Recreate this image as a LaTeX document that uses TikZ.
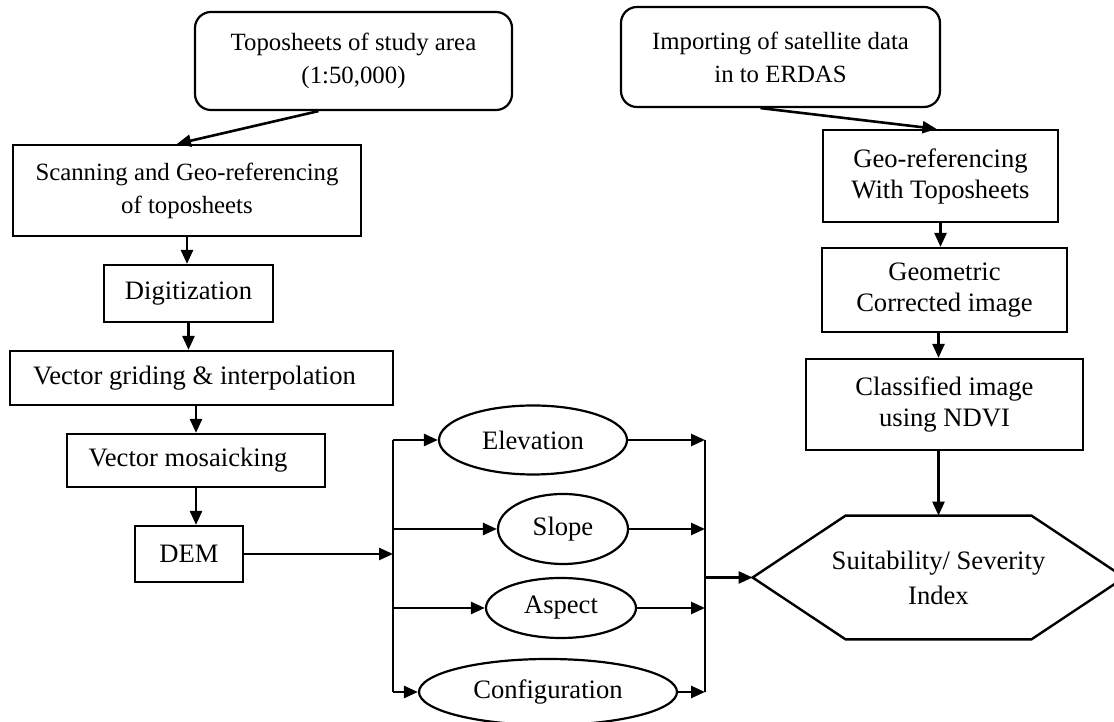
\documentclass[tikz,border=0pt]{standalone}
\usepackage{fontspec}
\setmainfont{Liberation Serif}
\usetikzlibrary{shapes.geometric, arrows.meta, calc}

\begin{document}
\begin{tikzpicture}
  [x=0.5pt, y=0.5pt,
  font=\fontsize{13.3}{15.5}\selectfont,
  ssty/.style={font=\fontsize{12.4}{16.5}\selectfont},
  bsty/.style={rectangle, draw, line width=1.1pt, align=center, inner sep=0pt},
  rsty/.style={bsty, ssty, rounded corners=8pt},
  esty/.style={ellipse, draw, line width=1.1pt, inner sep=0pt},
  asty/.style={-{Triangle[length=7pt, width=6pt]}, line width=1.3pt},
  lsty/.style={line width=1.2pt}]
  \useasboundingbox (0,0) rectangle (1114,722);
  % nodes, left column
  \node[rsty, minimum width=158.5pt, minimum height=49pt] (topo) at (353.5,661) {Toposheets of study area\\(1:50,000)};
  \node[bsty, ssty, minimum width=174pt, minimum height=45.5pt] (scan) at (187,531.5) {Scanning and Geo-referencing\\of toposheets};
  \node[bsty, minimum width=84.5pt, minimum height=28.5pt] (digit) at (188.5,428.5) {Digitization};
  \node[bsty, minimum width=191.5pt, minimum height=27pt] (grid) at (201.5,344) {Vector griding \& interpolation\hspace{7pt}};
  \node[bsty, minimum width=129pt, minimum height=26.5pt] (mosaic) at (196,261.5) {Vector mosaicking\hspace{8pt}};
  \node[bsty, minimum width=54pt, minimum height=28pt] (dem) at (189,168) {DEM};
  % nodes, right column
  \node[rsty, minimum width=159.5pt, minimum height=50pt] (import) at (780.5,665) {Importing of satellite data\\in to ERDAS};
  \node[bsty, minimum width=117.5pt, minimum height=46pt] (georef) at (940.5,546) {Geo-referencing\\With Toposheets};
  \node[bsty, minimum width=122.5pt, minimum height=42pt] (geom) at (944.5,432) {Geometric\\Corrected image};
  \node[bsty, minimum width=138.5pt, minimum height=45.5pt] (class) at (944.5,317.5) {Classified image\\using NDVI};
  % ellipses
  \node[esty, minimum width=94pt, minimum height=34.5pt] (elev) at (533,282) {Elevation};
  \node[esty, minimum width=65pt, minimum height=35pt] (slope) at (563,193) {Slope};
  \node[esty, minimum width=75pt, minimum height=30pt] (aspect) at (561,114) {Aspect};
  \node[esty, minimum width=129pt, minimum height=33pt] (config) at (548,30) {Configuration};
  % index
  \node[minimum width=185.5pt, minimum height=61.5pt, inner sep=0pt, align=center] (hex) at (938.5,144.5) {Suitability/ Severity\\[2pt]Index};
  \draw[lsty] (hex.west) -- ([xshift=46.5pt]hex.north west) -- ([xshift=-46.5pt]hex.north east)
    -- (hex.east) -- ([xshift=-46.5pt]hex.south east) -- ([xshift=46.5pt]hex.south west) -- cycle;
  % bus points
  \coordinate (busl) at (393,168);
  \coordinate (busr) at (705,144.5);
  % arrows
  \draw[asty] ([xshift=-17.5pt]topo.south) -- ([xshift=-5pt]scan.north);
  \draw[asty] (scan.south) -- (scan.south |- digit.north);
  \draw[asty] (digit.south) -- (digit.south |- grid.north);
  \draw[asty] (mosaic.north |- grid.south) -- (mosaic.north);
  \draw[asty] (mosaic.south) -- (mosaic.south |- dem.north);
  \draw[asty] ([xshift=-10pt]import.south) -- ([xshift=-2pt]georef.north);
  \draw[asty] (georef.south) -- (georef.south |- geom.north);
  \draw[asty] ([xshift=-3pt]geom.south) -- ([xshift=-3pt]class.north);
  \draw[asty] ([xshift=-3pt]class.south) -- ([xshift=-3pt]class.south |- hex.north);
  \draw[asty] (dem) -- (busl);
  \draw[lsty] (busl |- elev) -- (busl |- config);
  \draw[lsty] (busr |- elev) -- (busr |- config);
  \foreach \n in {elev, slope, aspect, config} {
    \draw[asty] (busl |- \n) -- (\n);
    \draw[asty] (\n) -- (busr |- \n);
  }
  \draw[asty] (busr) -- (hex.west);
\end{tikzpicture}
\end{document}
